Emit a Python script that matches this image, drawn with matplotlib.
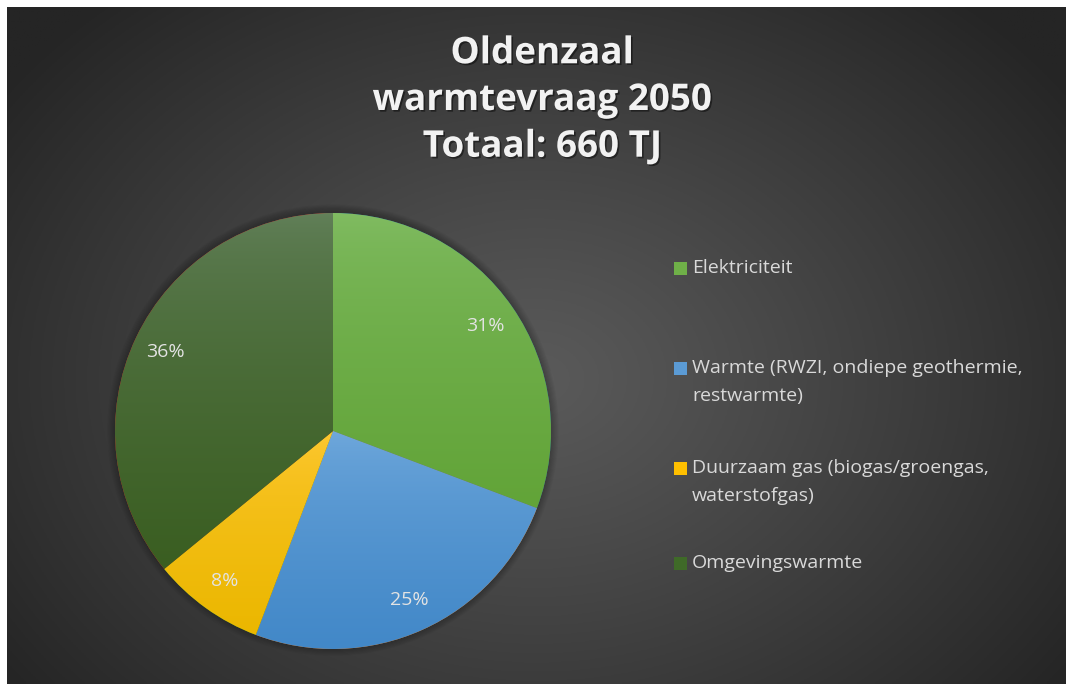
import numpy as np
import matplotlib.pyplot as plt
import matplotlib.patheffects as pe
from matplotlib.patches import Rectangle, Circle
from matplotlib.colors import to_rgb

W, H = 1069, 687

# data (TJ, total 660)
categories = [
    "Elektriciteit",
    "Warmte (RWZI, ondiepe geothermie,\nrestwarmte)",
    "Duurzaam gas (biogas/groengas,\nwaterstofgas)",
    "Omgevingswarmte",
]
values_tj = [203, 165, 55, 237]
title = "Oldenzaal\nwarmtevraag 2050\nTotaal: 660 TJ"

# gradient per slice: (top, bottom)
slice_colors = [
    ("#82bd64", "#62a438"),
    ("#72aadd", "#4288c8"),
    ("#ffc935", "#ebb700"),
    ("#63815b", "#3a5e21"),
]
legend_colors = ["#6fb048", "#5b9bd5", "#ffc000", "#3f6a28"]


def px(x, y):
    return x / W, 1 - y / H


fig = plt.figure(figsize=(W / 100, H / 100), dpi=100, facecolor="white")

# dark radial background
bg = fig.add_axes([7 / W, 3 / H, 1059 / W, 677 / H])
bg.set_axis_off()
gx, gy = np.meshgrid(np.linspace(0, 1, 400), np.linspace(0, 1, 260))
d = np.sqrt(((gx - 0.50) / 0.62) ** 2 + ((gy - 0.55) / 0.75) ** 2)
d = np.clip(d, 0, 1)
lum = (0x5a - (0x5a - 0x25) * d ** 1.1) / 255
bg.imshow(np.dstack([lum, lum, lum]), extent=(0, 1, 0, 1), aspect="auto", origin="upper")
bg.set_xlim(0, 1)
bg.set_ylim(0, 1)

# pie
cx, cy, r = 333, 431, 218
ax = fig.add_axes([(cx - r) / W, 1 - (cy + r) / H, 2 * r / W, 2 * r / H])
for k in range(1, 8):
    ax.add_patch(Circle((0, 0.004), 1 + k * 0.005, color="black", alpha=0.035, zorder=0,
                        lw=0, clip_on=False))

wedges, _, autotexts = ax.pie(
    values_tj, startangle=90, counterclock=False, radius=1,
    autopct=lambda p: f"{p:.0f}%", pctdistance=0.85,
    wedgeprops=dict(linewidth=0), textprops=dict(color="#e3e3e3", fontsize=14, family="Open Sans"),
)
for w, (top, bot) in zip(wedges, slice_colors):
    ext = w.get_path().get_extents()
    t = np.linspace(0, 1, 256)[:, None] ** 0.6
    grad = (1 - t) * np.array(to_rgb(top)) + t * np.array(to_rgb(bot))
    im = ax.imshow(grad.reshape(256, 1, 3), extent=(ext.x0, ext.x1, ext.y0, ext.y1),
                   origin="upper", aspect="auto", zorder=2)
    im.set_clip_path(w)
for t in autotexts:
    t.set_zorder(5)
ax.set_xlim(-1, 1)
ax.set_ylim(-1, 1)
ax.set_aspect("equal")
ax.set_axis_off()

# title
fig.text(*px(542, 100), title, ha="center", va="center", fontsize=26.5, fontweight="bold",
         family="Open Sans", color="#f2f2f2", linespacing=1.3,
         path_effects=[pe.withSimplePatchShadow(offset=(1.2, -1.2), shadow_rgbFace="black", alpha=0.45)])

# legend
first_line_y = [268, 368, 468, 563]
for lab, col, y0 in zip(categories, legend_colors, first_line_y):
    x0, yb = px(674, y0 + 6.5)
    fig.patches.append(Rectangle((x0, yb), 13 / W, 13 / H, transform=fig.transFigure,
                                 facecolor=col, edgecolor="none"))
    for j, line in enumerate(lab.split("\n")):
        fig.text(*px(692, y0 + j * 28), line, ha="left", va="center", fontsize=14,
                 family="Open Sans", color="#d9d9d9")

fig.savefig("out.png", dpi=100, facecolor="white")
